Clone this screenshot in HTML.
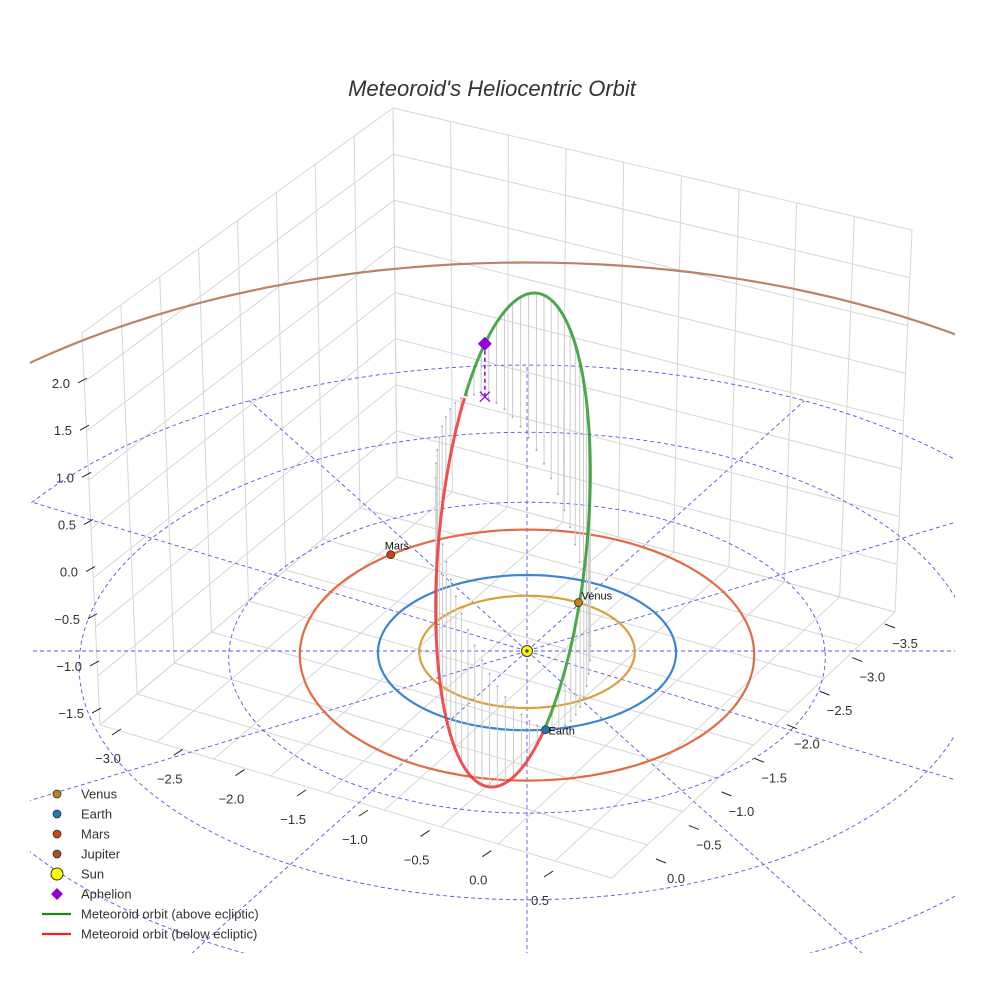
<!DOCTYPE html>
<html><head><meta charset="utf-8"><style>
html,body{margin:0;padding:0;background:#fff;overflow:hidden;width:984px;height:984px;}
svg{display:block;font-family:"Liberation Sans",sans-serif;}
</style></head><body>
<svg id="chart" width="984" height="984" viewBox="0 0 984 984">
<defs><clipPath id="plotclip"><rect x="30" y="0" width="925" height="953"/></clipPath></defs>
<text x="492" y="96" text-anchor="middle" font-size="22" font-style="italic" fill="#333">Meteoroid's Heliocentric Orbit</text>
<g id="box"></g>
<g id="plot" clip-path="url(#plotclip)"></g>
<g id="ticks"></g>
<g id="legend"></g>
</svg>
<script>
// ---- data ----
const planetNames = ["Venus","Earth","Mars","Jupiter"];
const planetRadii = [0.723, 1.0, 1.524, 5.2];
const planetAngles = [61, -83, 128, null];
const planetColors = ["#c0801a","#1f77b4","#cc4411","#a0522d"];
const orbitColors = ["#d9a040","#3a86d0","#e06c45","#b98468"];
const gridRadii = [1,2,3,4];
const radialAngles = [0,30,60,90,120,150,180,210,240,270,300,330];
const xTicks = ["−3.0","−2.5","−2.0","−1.5","−1.0","−0.5","0.0","0.5"];
const yTicks = ["−3.5","−3.0","−2.5","−2.0","−1.5","−1.0","−0.5","0.0"];
const zTicks = ["2.0","1.5","1.0","0.5","0.0","−0.5","−1.0","−1.5"];
const zTickValues = [2.0,1.5,1.0,0.5,0.0,-0.5,-1.0,-1.5];
const orbitZ = [0.233, 1.437, 1.249];   // z0, zcos, zsin
const aphelionT = [-39];
const legendLabels = ["Venus","Earth","Mars","Jupiter","Sun","Aphelion","Meteoroid orbit (above ecliptic)","Meteoroid orbit (below ecliptic)"];

// ---- projection (mild perspective) ----
const SX=527, SY=651, KX=149, KY=77.6, PC=0.0214, KZ=94;
function proj(X,Y){const f=1+PC*Y;return [SX+KX*X/f, SY-KY*Y/f];}
const NS="http://www.w3.org/2000/svg";
function mk(tag, attrs, parent){const e=document.createElementNS(NS,tag);for(const k in attrs)e.setAttribute(k,attrs[k]);parent.appendChild(e);return e;}
const box=document.getElementById('box'), plot=document.getElementById('plot'), ticks=document.getElementById('ticks'), legend=document.getElementById('legend');
function circlePath(r,sy){let s='';for(let k=0;k<=360;k+=2){const a=k*Math.PI/180,p=proj(r*Math.cos(a),r*Math.sin(a));const y=SY+(p[1]-SY)*sy;s+=(k?'L':'M')+p[0].toFixed(1)+','+y.toFixed(1);}return s;}

// ---- box walls ----
function lerp(a,b,t){return [a[0]+(b[0]-a[0])*t,a[1]+(b[1]-a[1])*t];}
function bil(p00,p10,p01,p11,u,v){return lerp(lerp(p00,p10,u),lerp(p01,p11,u),v);}
function wall(p00,p10,p01,p11,nu,nv,name){
  for(let i=0;i<=nu;i++){const a=bil(p00,p10,p01,p11,i/nu,0),b=bil(p00,p10,p01,p11,i/nu,1);
    const l=mk('line',{x1:a[0],y1:a[1],x2:b[0],y2:b[1],stroke:'#d6d6d6','stroke-width':1},box);
    
    }
  for(let j=0;j<=nv;j++){const a=bil(p00,p10,p01,p11,0,j/nv),b=bil(p00,p10,p01,p11,1,j/nv);
    const l=mk('line',{x1:a[0],y1:a[1],x2:b[0],y2:b[1],stroke:'#d6d6d6','stroke-width':1},box);
    
    }
}
const BK=[397,477], LF=[100,725], RT=[895,612], FR=[612,878];
const BKt=[393,108], LFt=[82,333], RTt=[912,230];
wall(LF,BK,LFt,BKt,8,8,'left-wall');
wall(BK,RT,BKt,RTt,9,8,'right-wall');
wall(LF,BK,FR,RT,8,9,'floor');

// ---- grid circles and radial lines ----
gridRadii.forEach((r,i)=>{
  const e=mk('path',{d:circlePath(r,1),fill:'none',stroke:'#5555e6','stroke-width':0.9,'stroke-dasharray':'4,3'},plot);
  
  
});
radialAngles.forEach(a=>{
  const c=Math.cos(a*Math.PI/180), s=Math.sin(a*Math.PI/180);
  const R = s>0.01 ? 4 : 9;
  const p=proj(R*c,R*s);
  const l=mk('line',{x1:SX,y1:SY,x2:p[0],y2:p[1],stroke:'#5555e6','stroke-width':0.9,'stroke-dasharray':'4,3'},plot);
  
  
});

// ---- planet orbits ----
const orbitYScale=[1,1,1.06,1.07];
planetRadii.forEach((r,i)=>{
  const e=mk('path',{d:circlePath(r,orbitYScale[i]),fill:'none',stroke:orbitColors[i],'stroke-width':2.2},plot);
  
  
});

// ---- meteoroid orbit ----
const C=[513,540], A=248, B=74, d=[0.0946,-0.9955], n=[0.9955,0.0946];
function scr(t){const c=Math.cos(t),s=Math.sin(t);return [C[0]+A*d[0]*c+B*n[0]*s, C[1]+A*d[1]*c+B*n[1]*s];}
function zt(t){return orbitZ[0]+orbitZ[1]*Math.cos(t)+orbitZ[2]*Math.sin(t);}
for(let k=0;k<60;k++){
  const t=k/60*2*Math.PI, p=scr(t), z=zt(t), fy=p[1]+KZ*z;
  const l=mk('line',{x1:p[0],y1:p[1],x2:p[0],y2:fy,stroke:'#cccccc','stroke-width':1},plot);
  
  
  const f=mk('circle',{cx:p[0],cy:fy,r:1,fill:'#aaa'},plot);
  
  
}
let green='',red='',prevG=false,prevR=false;
for(let k=0;k<=720;k++){
  const t=k/720*2*Math.PI, p=scr(t), z=zt(t);
  if(z>=0) green+=(prevG?'L':'M')+p[0].toFixed(1)+','+p[1].toFixed(1);
  else red+=(prevR?'L':'M')+p[0].toFixed(1)+','+p[1].toFixed(1);
  prevG=z>=0; prevR=z<0;
}
const gp=mk('path',{d:green,fill:'none',stroke:'#2e9a2e','stroke-width':3,'stroke-opacity':0.85},plot);


const rp=mk('path',{d:red,fill:'none',stroke:'#ee3333','stroke-width':3,'stroke-opacity':0.85},plot);


{const t=aphelionT[0]*Math.PI/180,p=scr(t),fy=p[1]+KZ*zt(t);
 const l=mk('line',{x1:p[0],y1:p[1],x2:p[0],y2:fy,stroke:'#9400d3','stroke-width':1.5,'stroke-dasharray':'4,3'},plot);
 
 
 const x=mk('path',{d:`M${p[0]-5},${fy-5}L${p[0]+5},${fy+5}M${p[0]+5},${fy-5}L${p[0]-5},${fy+5}`,stroke:'#9400d3','stroke-width':1.3,fill:'none'},plot);
 
 
 const dm=mk('path',{d:`M${p[0]},${p[1]-7}L${p[0]+7},${p[1]}L${p[0]},${p[1]+7}L${p[0]-7},${p[1]}Z`,fill:'#9400d3'},plot);
 
 }

// ---- sun & planets ----
{const s=mk('circle',{cx:SX,cy:SY,r:5.5,fill:'#ffff00',stroke:'#333','stroke-width':1},plot);
 
 
 const c=mk('circle',{cx:SX,cy:SY,r:1.8,fill:'#4444aa'},plot);
 
 }
planetAngles.forEach((a,i)=>{
  if(a===null)return;
  const r=planetRadii[i], p=proj(r*Math.cos(a*Math.PI/180), r*Math.sin(a*Math.PI/180));
  const px=p[0], py=SY+(p[1]-SY)*orbitYScale[i];
  const c=mk('circle',{cx:px,cy:py,r:4,fill:planetColors[i],stroke:'#333','stroke-width':0.8},plot);
  
  
  const tx=mk('text',{x:i==2?px-6:px+3,y:i==2?py-5:py+(i==1?5:-3),'font-size':11,fill:'#111'},plot);
  tx.textContent=planetNames[i];
  
  
});

// ---- ticks ----
function tickLine(x1,y1,x2,y2){const l=mk('line',{x1,y1,x2,y2,stroke:'#222','stroke-width':1},ticks);
  
  }
function tickText(x,y,s,anchor,name){const t=mk('text',{x,y,'font-size':13,fill:'#333','text-anchor':anchor},ticks);t.textContent=s;
  
  }
xTicks.forEach((s,i)=>{const u=i/7, p=lerp([108,763],[540,905],u);
  tickLine(p[0]+4,p[1]-28,p[0]+13,p[1]-34); tickText(p[0],p[1],s,'middle','x-tick-label');});
yTicks.forEach((s,i)=>{const u=i/7, p=lerp([905,648],[676,883],u);
  tickLine(p[0]-20,p[1]-24,p[0]-10,p[1]-20); tickText(p[0],p[1],s,'middle','y-tick-label');});
zTicks.forEach((s,i)=>{
  const yy=388+(2.0-zTickValues[i])*94.3;
  const xe=78+(2.0-zTickValues[i])*4;
  tickLine(xe,yy-5,xe+9,yy-10); tickText(xe-8,yy,s,'end','z-tick-label');});

// ---- legend ----
legendLabels.forEach((s,i)=>{
  const y=794+i*20;
  let m;
  if(i<4){m=mk('circle',{cx:57,cy:y,r:4,fill:planetColors[i],stroke:'#333','stroke-width':0.8},legend);}
  else if(i==4){m=mk('circle',{cx:57,cy:y,r:6,fill:'#ffff00',stroke:'#333','stroke-width':1},legend);}
  else if(i==5){m=mk('path',{d:`M57,${y-6}L63,${y}L57,${y+6}L51,${y}Z`,fill:'#9400d3'},legend);}
  else {m=mk('line',{x1:42,y1:y,x2:71,y2:y,stroke:i==6?'#1a8a1a':'#ee2222','stroke-width':2.2},legend);}
  
  
  const t=mk('text',{x:81,y:y+4.5,'font-size':13,fill:'#333'},legend);
  t.textContent=s;
  
  
});
</script>
</body></html>
